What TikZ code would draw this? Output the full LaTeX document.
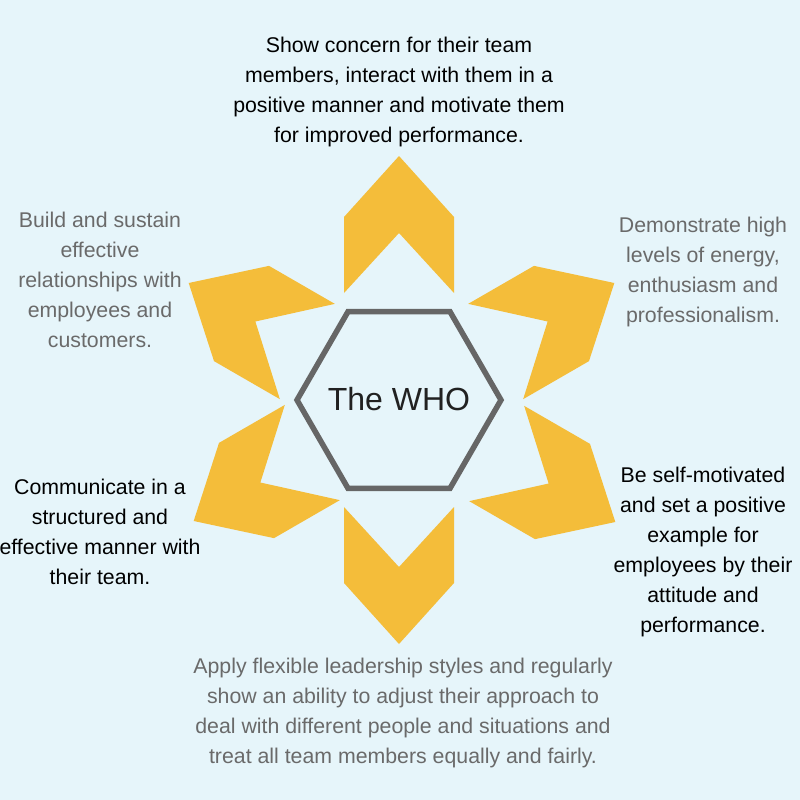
\documentclass[tikz,border=0pt]{standalone}
\usepackage{fontspec}
\setmainfont{Liberation Sans}
\usepackage{xcolor}
\usepackage{tikz}
\usetikzlibrary{positioning,calc}
\definecolor{skyback}{HTML}{E6F5FA}
\definecolor{sunyellow}{HTML}{F4BD3A}
\definecolor{hexgray}{HTML}{666666}
\definecolor{textgray}{HTML}{6A6A6A}
\tikzset{
    petal/.style={fill=sunyellow, draw=none},
    blurb/.style={align=center, font=\fontsize{21.3}{30}\selectfont, inner sep=0pt},
    darkblurb/.style={blurb, text=black},
    lightblurb/.style={blurb, text=textgray}
}

\begin{document}
\begin{tikzpicture}[x=1pt,y=-1pt]
    \fill[skyback] (0,0) rectangle (800,800);
    \useasboundingbox (0,0) rectangle (800,800);
    % six chevrons round the centre
    \foreach \ang/\dx/\dy in {0/0/0, -60/4/5, -120/5/0, 180/0/0, 120/6/-1, 60/1/5} {
        \begin{scope}[shift={(399+\dx,400+\dy)}, rotate=\ang]
            \fill[petal] (-55,-107) -- (-55,-183) -- (0,-244) -- (55,-183) -- (55,-107) -- (0,-167) -- cycle;
        \end{scope}
    }
    % hexagon
    \begin{scope}[shift={(399,400)}]
        \draw[hexgray, line width=5.5pt, line join=miter] (0:102) -- (60:102) -- (120:102) -- (180:102) -- (240:102) -- (300:102) -- cycle;
    \end{scope}
    \node[text=black!87, font=\fontsize{32}{38}\selectfont] (who) at (399,399) {The WHO};
    % texts
    \node[darkblurb] (concern) at (399,92) {Show concern for their team\\members, interact with them in a\\positive manner and motivate them\\for improved performance.};
    \node[lightblurb] (relations) at (100,280) {Build and sustain\\effective\\relationships with\\employees and\\customers.};
    \node[lightblurb] (energy) at (703,272) {Demonstrate high\\levels of energy,\\enthusiasm and\\professionalism.};
    \node[darkblurb] (communicate) at (100,532) {Communicate in a\\structured and\\effective manner with\\their team.};
    \node[darkblurb] (selfmotiv) at (703,552) {Be self-motivated\\and set a positive\\example for\\employees by their\\attitude and\\performance.};
    \node[lightblurb] (flexible) at (403,713) {Apply flexible leadership styles and regularly\\show an ability to adjust their approach to\\deal with different people and situations and\\treat all team members equally and fairly.};
\end{tikzpicture}
\end{document}
